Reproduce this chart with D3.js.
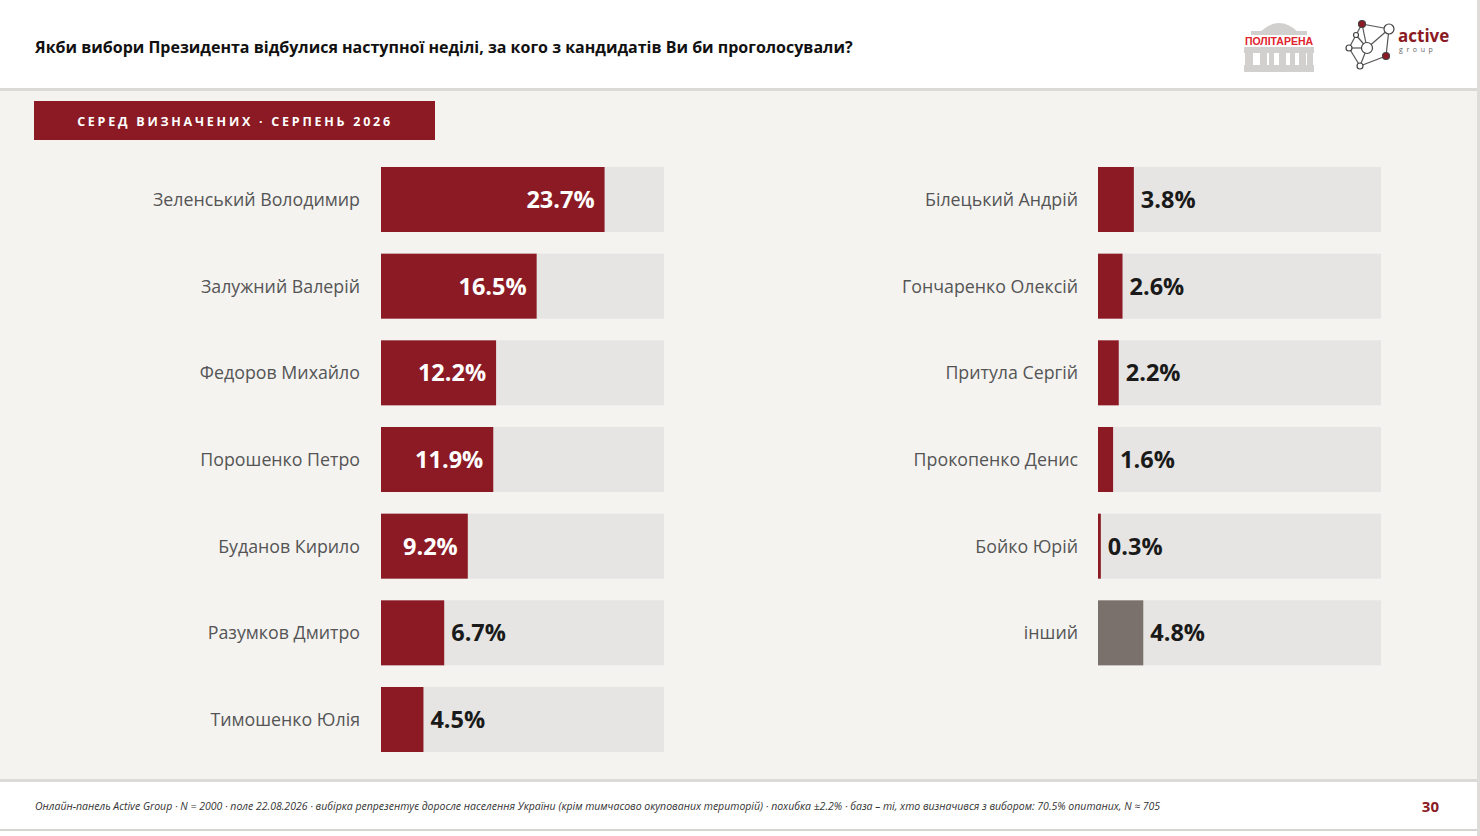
<!DOCTYPE html>
<html>
<head>
<meta charset="utf-8">
<script src="https://cdn.jsdelivr.net/npm/d3@7"></script>
<style>
  html, body { margin: 0; padding: 0; background: #ffffff; }
  svg { display: block; }
</style>
</head>
<body>
<svg id="chart"></svg>
<script>
const titleText = "Якби вибори Президента відбулися наступної неділі, за кого з кандидатів Ви би проголосували?";
const badgeText = "СЕРЕД ВИЗНАЧЕНИХ · СЕРПЕНЬ 2026";
const footerText = "Онлайн-панель Active Group · N = 2000 · поле 22.08.2026 · вибірка репрезентує доросле населення України (крім тимчасово окупованих територій) · похибка ±2.2% · база – ті, хто визначився з вибором: 70.5% опитаних, N ≈ 705";
const pageNumber = "30";

const leftNames = ["Зеленський Володимир", "Залужний Валерій", "Федоров Михайло", "Порошенко Петро", "Буданов Кирило", "Разумков Дмитро", "Тимошенко Юлія"];
const leftValues = [23.7, 16.5, 12.2, 11.9, 9.2, 6.7, 4.5];
const rightNames = ["Білецький Андрій", "Гончаренко Олексій", "Притула Сергій", "Прокопенко Денис", "Бойко Юрій", "інший"];
const rightValues = [3.8, 2.6, 2.2, 1.6, 0.3, 4.8];
const otherNames = ["інший"];

const width = 1480, height = 836;
const red = "#8b1a24", track = "#e6e5e3", grayBar = "#7a716c", bg = "#f4f3f0";
const font = "'Open Sans', 'DejaVu Sans', sans-serif";

const svg = d3.select("#chart").attr("width", width).attr("height", height);

// page background + panels
svg.append("rect").attr("width", width).attr("height", height).attr("fill", "#ffffff");
svg.append("rect").attr("x", 0).attr("y", 90).attr("width", 1478).attr("height", 690).attr("fill", bg);
svg.append("rect").attr("x", 0).attr("y", 88).attr("width", 1478).attr("height", 3).attr("fill", "#dcdad6");
svg.append("rect").attr("x", 0).attr("y", 779).attr("width", 1478).attr("height", 3).attr("fill", "#dcdad6");
svg.append("rect").attr("x", 0).attr("y", 829).attr("width", 1478).attr("height", 2).attr("fill", "#d6d4d0");
svg.append("rect").attr("x", 1477).attr("y", 0).attr("width", 3).attr("height", height).attr("fill", "#dedcd8");

// title
svg.append("text")
  .attr("x", 35).attr("y", 53)
  .attr("font-family", font).attr("font-weight", 700).attr("font-size", 16)
  .attr("fill", "#111")
  .text(titleText);

// logos
const bldg = "#d2d0ce";
const logo1 = svg.append("g").attr("transform", "translate(1243,20)");
logo1.append("path").attr("d", "M17,12 Q36,-6 55,12 Z").attr("fill", bldg);
logo1.append("rect").attr("x", 8).attr("y", 11).attr("width", 56).attr("height", 4).attr("fill", bldg);
logo1.append("rect").attr("x", 1).attr("y", 27).attr("width", 70).attr("height", 6).attr("fill", bldg);
[[2, 8], [17, 7], [26, 5], [36, 7], [47, 5], [56, 7], [64, 6]].forEach(([x, w]) => {
  logo1.append("rect").attr("x", x).attr("y", 33).attr("width", w).attr("height", 16).attr("fill", bldg);
});
logo1.append("rect").attr("x", 1).attr("y", 45).attr("width", 70).attr("height", 7).attr("fill", bldg);
logo1.append("text").attr("x", 36).attr("y", 25).attr("text-anchor", "middle")
  .attr("font-family", "'Liberation Sans', Arial, sans-serif").attr("font-size", 10.5).attr("font-weight", 700)
  .attr("fill", "#e0232c").text("ПОЛІТАРЕНА");

const logo2 = svg.append("g");
const nodes = [[1362, 24, 3.5, red], [1389, 29, 5, "#fff"], [1349, 48, 3, "#fff"], [1367, 48, 5.5, "#fff"],
  [1356, 35, 2.5, "#fff"], [1386, 56, 3.5, red], [1360, 66, 3, "#fff"]];
const links = [[0, 1], [0, 4], [4, 2], [2, 6], [6, 5], [5, 1], [1, 3], [3, 6], [3, 4], [2, 3], [0, 3]];
links.forEach(([a, b]) => {
  logo2.append("line").attr("x1", nodes[a][0]).attr("y1", nodes[a][1]).attr("x2", nodes[b][0]).attr("y2", nodes[b][1])
    .attr("stroke", "#555").attr("stroke-width", 1.2);
});
nodes.forEach(([x, y, r, c]) => {
  logo2.append("circle").attr("cx", x).attr("cy", y).attr("r", r).attr("fill", c).attr("stroke", "#444").attr("stroke-width", 1.2);
});
logo2.append("text").attr("x", 1398).attr("y", 42).attr("font-family", font).attr("font-weight", 700)
  .attr("font-size", 17).attr("fill", red).text("active");
logo2.append("text").attr("x", 1399).attr("y", 52).attr("font-family", font)
  .attr("font-size", 7).attr("letter-spacing", 3.6).attr("fill", "#666").text("group");

// badge
svg.append("rect").attr("x", 34).attr("y", 101).attr("width", 401).attr("height", 39).attr("fill", red);
svg.append("text").attr("x", 235).attr("y", 125.5).attr("text-anchor", "middle")
  .attr("font-family", font).attr("font-weight", 700).attr("font-size", 12.5)
  .attr("letter-spacing", 2.75).attr("fill", "#fff").text(badgeText);

// panels of bars
function drawPanel(names, values, x0, labelX) {
  const x = d3.scaleLinear().domain([0, 30]).range([x0, x0 + 283]);
  const y = d3.scaleBand().domain(d3.range(7)).range([167, 752]).paddingInner(0.25).paddingOuter(0);
  const rows = names.map((n, i) => ({ name: n, value: values[i], i }));
  const g = svg.append("g");
  const row = g.selectAll("g.row").data(rows).enter().append("g").attr("class", "row");

  row.append("text")
    .attr("x", labelX).attr("y", d => y(d.i) + y.bandwidth() / 2)
    .attr("dy", "0.36em").attr("text-anchor", "end")
    .attr("font-family", font).attr("font-size", 17.8).attr("fill", "#555")
    .text(d => d.name);

  row.append("rect")
    .attr("x", x(0)).attr("y", d => y(d.i))
    .attr("width", x(30) - x(0)).attr("height", y.bandwidth())
    .attr("fill", track);

  row.append("rect")
    .attr("x", x(0)).attr("y", d => y(d.i))
    .attr("width", d => x(d.value) - x(0)).attr("height", y.bandwidth())
    .attr("fill", d => otherNames.includes(d.name) ? grayBar : red);

  row.append("text")
    .attr("x", d => d.value >= 8 ? x(d.value) - 10 : x(d.value) + 7)
    .attr("y", d => y(d.i) + y.bandwidth() / 2)
    .attr("dy", "0.36em")
    .attr("text-anchor", d => d.value >= 8 ? "end" : "start")
    .attr("font-family", font).attr("font-weight", 700).attr("font-size", 23.5)
    .attr("fill", d => d.value >= 8 ? "#fff" : "#1a1a1a")
    .text(d => d.value.toFixed(1) + "%");
}

drawPanel(leftNames, leftValues, 381, 360);
drawPanel(rightNames, rightValues, 1098, 1078);

// footer
svg.append("text").attr("x", 35).attr("y", 810)
  .attr("font-family", font).attr("font-style", "italic").attr("font-size", 10.5)
  .attr("fill", "#333").text(footerText);
svg.append("text").attr("x", 1439).attr("y", 812).attr("text-anchor", "end")
  .attr("font-family", font).attr("font-weight", 700).attr("font-size", 15)
  .attr("fill", red).text(pageNumber);
</script>
</body>
</html>
